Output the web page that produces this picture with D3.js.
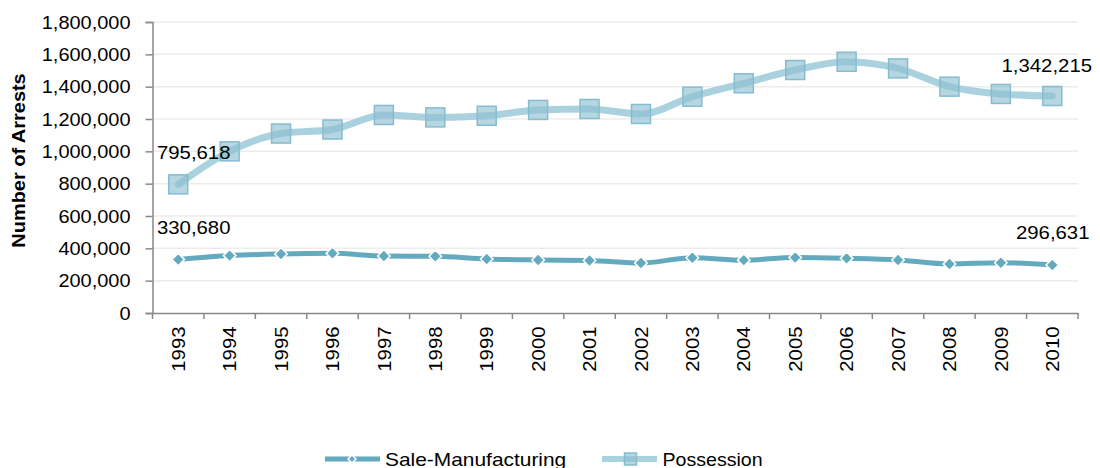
<!DOCTYPE html>
<html>
<head>
<meta charset="utf-8">
<script src="https://d3js.org/d3.v7.min.js"></script>
<style>
  body { margin: 0; background: #fff; }
  text { font-family: "Liberation Sans", Arial, sans-serif; fill: #000; }
</style>
</head>
<body>
<svg width="1100" height="468"></svg>
<script>
// data
var years = ["1993","1994","1995","1996","1997","1998","1999","2000","2001","2002",
             "2003","2004","2005","2006","2007","2008","2009","2010"];
var saleManufacturing = [330680, 355000, 365000, 369000, 352000, 351000, 334000, 328000, 325000, 309000,
                         342000, 327000, 343000, 338000, 328000, 303000, 311000, 296631];
var possession = [795618, 1000000, 1110000, 1135000, 1225000, 1210000, 1220000, 1256000, 1262000, 1231000,
                  1338000, 1421000, 1503000, 1554000, 1513000, 1400000, 1355000, 1342215];
var yTicks = [0, 200000, 400000, 600000, 800000, 1000000, 1200000, 1400000, 1600000, 1800000];

var svg = d3.select("svg");
var plotLeft = 152.5, plotRight = 1078, plotTop = 22, plotBottom = 313;

var x = d3.scaleBand().domain(years).range([plotLeft, plotRight]);
var y = d3.scaleLinear().domain([0, 1800000]).range([plotBottom, plotTop]);
var fmt = d3.format(",");

// the reference font runs a little wide
function stretch(sel, k) {
  sel.each(function() {
    var w = this.getComputedTextLength();
    d3.select(this).attr("textLength", w * k).attr("lengthAdjust", "spacingAndGlyphs");
  });
}

// gridlines
svg.append("g")
  .selectAll("line")
  .data(yTicks.slice(1))
  .enter().append("line")
    .attr("x1", plotLeft).attr("x2", plotRight)
    .attr("y1", function(d) { return y(d); })
    .attr("y2", function(d) { return y(d); })
    .attr("stroke", "#ececec")
    .attr("stroke-width", 1.5);

// y axis
var yAxis = svg.append("g")
  .attr("transform", "translate(" + plotLeft + ",0)")
  .call(d3.axisLeft(y).tickValues(yTicks).tickFormat(fmt).tickSize(7).tickPadding(15));
yAxis.selectAll("text").style("font-size", "19px").call(stretch, 1.05);
yAxis.selectAll("line, path").attr("stroke", "#888").attr("stroke-width", 1.5);

// x axis, ticks between categories
var xAxis = svg.append("g")
  .attr("transform", "translate(0," + plotBottom + ")")
  .call(d3.axisBottom(x).tickSize(0).tickPadding(0));
xAxis.select(".domain").attr("stroke", "#888").attr("stroke-width", 1.5);
xAxis.selectAll(".tick text")
  .style("font-size", "19px")
  .attr("transform", "rotate(-90)")
  .attr("text-anchor", "end")
  .attr("x", -13.5)
  .attr("y", 0)
  .attr("dy", "0.35em")
  .call(stretch, 1.07);
svg.append("g")
  .selectAll("line")
  .data(years.concat(["end"]))
  .enter().append("line")
    .attr("x1", function(d, i) { return plotLeft + i * x.bandwidth(); })
    .attr("x2", function(d, i) { return plotLeft + i * x.bandwidth(); })
    .attr("y1", plotBottom).attr("y2", plotBottom + 6)
    .attr("stroke", "#888").attr("stroke-width", 1.5);

// y axis title
svg.append("text")
  .attr("transform", "translate(25,160.5) rotate(-90)")
  .attr("text-anchor", "middle")
  .style("font-size", "19px")
  .style("font-weight", "bold")
  .text("Number of Arrests")
  .call(stretch, 1.05);

var cx = function(d, i) { return x(years[i]) + x.bandwidth() / 2; };
var line = d3.line()
  .x(cx)
  .y(function(d) { return y(d); })
  .curve(d3.curveMonotoneX);

// possession
svg.append("path")
  .datum(possession)
  .attr("fill", "none")
  .attr("stroke", "#aad2de")
  .attr("stroke-width", 7)
  .attr("stroke-linecap", "round")
  .attr("d", line);
svg.append("g")
  .selectAll("rect")
  .data(possession)
  .enter().append("rect")
    .attr("x", function(d, i) { return cx(d, i) - 9.5; })
    .attr("y", function(d) { return y(d) - 9.5; })
    .attr("width", 19).attr("height", 19)
    .attr("fill", "#8fc0d1")
    .attr("fill-opacity", 0.65)
    .attr("stroke", "#86bccf")
    .attr("stroke-width", 1.5);

// sale-manufacturing
svg.append("path")
  .datum(saleManufacturing)
  .attr("fill", "none")
  .attr("stroke", "#63aabf")
  .attr("stroke-width", 5)
  .attr("d", line);
var diamond = d3.symbol().type(d3.symbolDiamond2).size(100);
svg.append("g")
  .selectAll("path")
  .data(saleManufacturing)
  .enter().append("path")
    .attr("d", diamond)
    .attr("transform", function(d, i) { return "translate(" + cx(d, i) + "," + y(d) + ")"; })
    .attr("fill", "#63aabf")
    .attr("stroke", "#fff")
    .attr("stroke-width", 1.5);

// end labels
var n = years.length - 1;
var labels = [
  { text: fmt(possession[0]), x: 157, y: 158.5, anchor: "start" },
  { text: fmt(saleManufacturing[0]), x: 157, y: 233.5, anchor: "start" },
  { text: fmt(possession[n]), x: 1092, y: 72, anchor: "end" },
  { text: fmt(saleManufacturing[n]), x: 1089.5, y: 238.5, anchor: "end" }
];
svg.append("g")
  .selectAll("text")
  .data(labels)
  .enter().append("text")
    .attr("x", function(d) { return d.x; })
    .attr("y", function(d) { return d.y; })
    .attr("text-anchor", function(d) { return d.anchor; })
    .style("font-size", "19px")
    .text(function(d) { return d.text; })
    .call(stretch, 1.07);

// legend
var lg = svg.append("g").attr("transform", "translate(0,459)");
lg.append("line").attr("x1", 325).attr("x2", 380).attr("y1", 0).attr("y2", 0)
  .attr("stroke", "#63aabf").attr("stroke-width", 5);
lg.append("path").attr("d", d3.symbol().type(d3.symbolDiamond2).size(40))
  .attr("transform", "translate(352,0)")
  .attr("fill", "#63aabf").attr("stroke", "#fff").attr("stroke-width", 1.5);
lg.append("text").attr("x", 385).attr("y", 6.5).style("font-size", "19px")
  .text("Sale-Manufacturing").call(stretch, 1.1);
lg.append("line").attr("x1", 602).attr("x2", 657).attr("y1", 0).attr("y2", 0)
  .attr("stroke", "#aad2de").attr("stroke-width", 6);
lg.append("rect").attr("x", 624.5).attr("y", -6).attr("width", 12).attr("height", 12)
  .attr("fill", "#8fc0d1").attr("fill-opacity", 0.65).attr("stroke", "#86bccf").attr("stroke-width", 1.5);
lg.append("text").attr("x", 662.5).attr("y", 6.5).style("font-size", "19px")
  .text("Possession").call(stretch, 1.03);
</script>
</body>
</html>
